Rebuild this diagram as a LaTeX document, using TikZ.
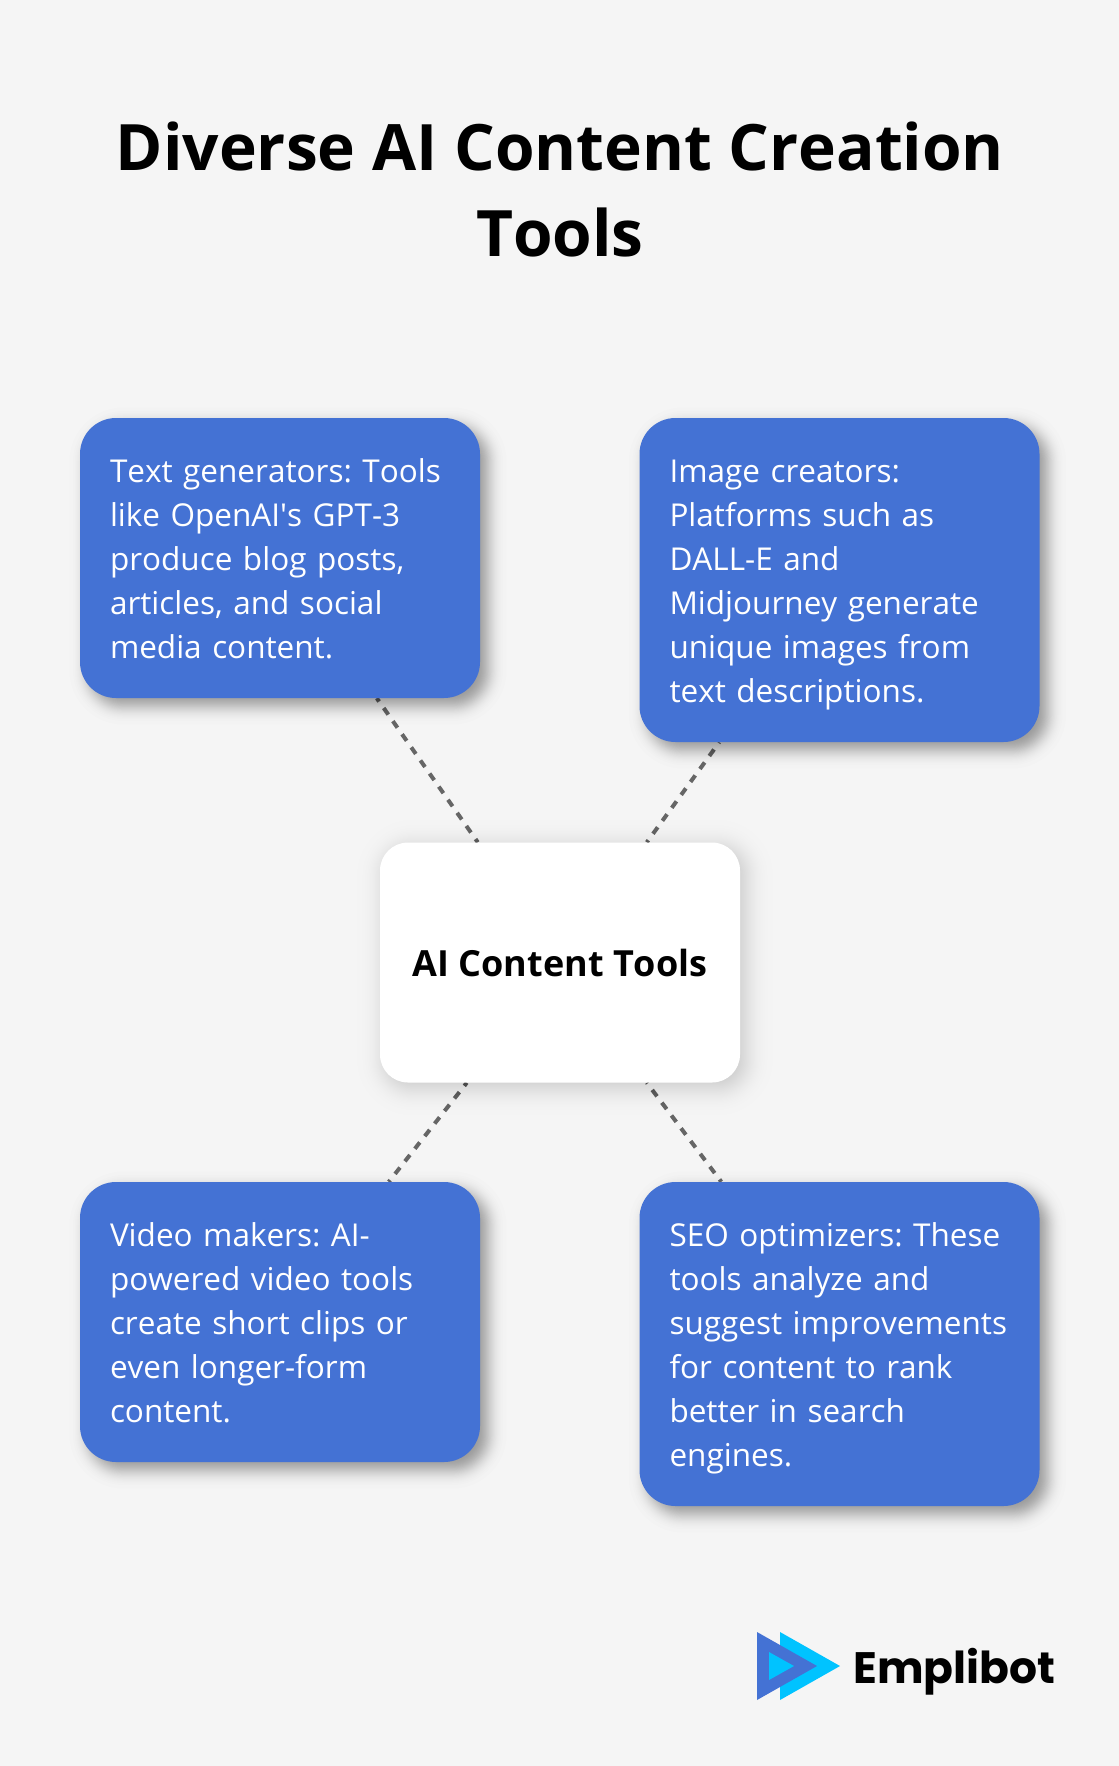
\documentclass[tikz,border=0pt]{standalone}
\usepackage{fontspec}
\setmainfont{Open Sans}[Ligatures=TeXOff,RawFeature={-kern}]
\newfontfamily\logofont{Poppins}
\usetikzlibrary{backgrounds}
\definecolor{pagebg}{HTML}{F5F5F5}
\definecolor{boxblue}{HTML}{4472D4}
\definecolor{logocyan}{HTML}{00C3FF}
\definecolor{linkgrey}{HTML}{666666}
\tikzset{
  card/.style={rounded corners=36pt,inner sep=0pt,align=left,text width=340pt,minimum width=400pt,
    font=\frenchspacing\fontsize{31.5}{44}\selectfont,
    execute at begin node={\rule{0pt}{39pt}},execute at end node=\strut},
  bluecard/.style={card,fill=boxblue,text=white},
  hubcard/.style={rounded corners=28pt,inner sep=0pt,align=center,fill=white,text=black,
    minimum width=360pt,minimum height=240pt,font=\fontsize{36}{46}\selectfont\bfseries},
  titletext/.style={align=center,inner sep=0pt,text=black,font=\fontsize{64}{86}\selectfont\bfseries},
  link/.style={draw=linkgrey,line width=4pt,dash pattern=on 8pt off 8pt,dash phase=4pt},
  linklate/.style={draw=linkgrey,line width=4pt,dash pattern=on 8pt off 8pt,dash phase=7pt},
}
% #1 node, #2 offset, #3 sigma, #4 layer opacity, #5 corner radius
\newcommand{\softshadow}[5]{%
  \foreach \q in {-2.31,-1.86,-1.63,-1.45,-1.32,-1.20,-1.10,-1.01,-.93,-.85,-.78,-.71,-.64,-.58,-.52,-.46,-.40,-.345,-.29,-.24,-.185,-.13,-.08,-.026,
                  .026,.08,.13,.185,.24,.29,.345,.40,.46,.52,.58,.64,.71,.78,.85,.93,1.01,1.10,1.20,1.32,1.45,1.63,1.86,2.31}{%
    \pgfmathsetmacro{\e}{\q*#3}%
    \pgfmathsetmacro{\rad}{max(#5+\e,3)}%
    \fill[black,fill opacity=#4,rounded corners=\rad pt]
      ([shift={(#2pt-\e pt,-#2pt+\e pt)}]#1.north west) rectangle
      ([shift={(#2pt+\e pt,-#2pt-\e pt)}]#1.south east);
  }%
}
\begin{document}
\begin{tikzpicture}[x=1pt,y=-1pt]
\useasboundingbox (0,0) rectangle (1118.5,1766);
\node[titletext] (title) at (560,189) {Diverse AI Content Creation\\Tools};
\node[bluecard,minimum height=280pt] (tl) at (280,558) {Text generators: Tools\\like OpenAI's GPT-3\\produce blog posts,\\articles, and social\\media content.};
\node[bluecard,minimum height=324pt] (tr) at (839.5,580) {Image creators:\\Platforms such as\\DALL-E and\\Midjourney generate\\unique images from\\text descriptions.};
\node[hubcard] (hub) at (560,962.5) {AI Content Tools};
\node[bluecard,minimum height=280pt] (bl) at (280,1322) {Video makers: AI-\\powered video tools\\create short clips or\\even longer-form\\content.};
\node[bluecard,minimum height=324pt] (br) at (839.5,1344) {SEO optimizers: These\\tools analyze and\\suggest improvements\\for content to rank\\better in search\\engines.};
\node[inner sep=0pt,anchor=base west,text=black,font=\logofont\fontsize{44}{50}\selectfont\bfseries] (brand) at (853,1683) {Emplibot};
\fill[logocyan] (780,1632) -- (840,1666) -- (780,1700) -- cycle;
\fill[boxblue] (757,1632) -- (817,1666) -- (757,1700) -- cycle;
\fill[logocyan] (769,1652) -- (794,1666) -- (769,1680) -- cycle;
\begin{scope}[on background layer]
  \fill[pagebg] (0,0) rectangle (1120,1766);
  \draw[link] ([xshift=297pt]tl.south west) -- ([xshift=98pt]hub.north west);
  \draw[linklate] ([xshift=80pt]tr.south west) -- ([xshift=267pt]hub.north west);
  \draw[link] ([xshift=87pt]hub.south west) -- ([xshift=309pt]bl.north west);
  \draw[linklate] ([xshift=267pt]hub.south west) -- ([xshift=82pt]br.north west);
  \softshadow{tl}{8}{8}{0.0074}{36}
  \softshadow{tr}{8}{8}{0.0074}{36}
  \softshadow{bl}{8}{8}{0.0074}{36}
  \softshadow{br}{8}{8}{0.0074}{36}
  \softshadow{hub}{5}{12}{0.0032}{28}
\end{scope}
\end{tikzpicture}
\end{document}
